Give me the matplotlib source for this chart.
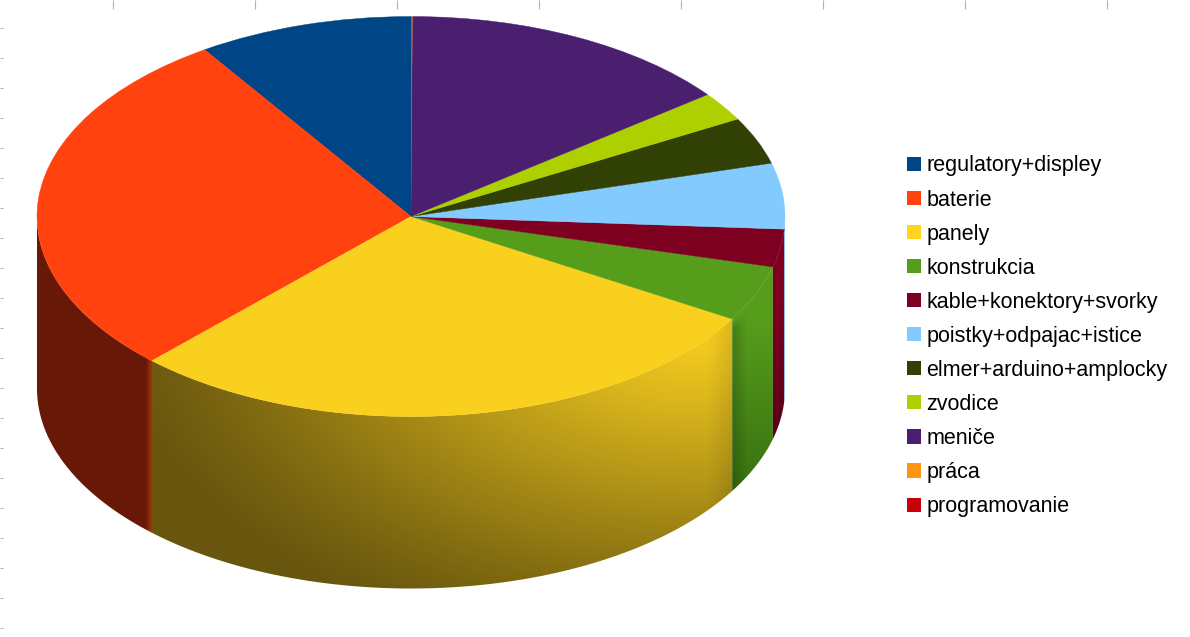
import numpy as np
import matplotlib
matplotlib.use("Agg")
import matplotlib.pyplot as plt
from matplotlib.patches import Patch, PathPatch
from matplotlib.path import Path

categories = ["regulatory+displey", "baterie", "panely", "konstrukcia",
              "kable+konektory+svorky", "poistky+odpajac+istice",
              "elmer+arduino+amplocky", "zvodice", "meniče", "práca", "programovanie"]
values = [9.3, 28.5, 28.6, 4.5, 3.05, 5.3, 3.8, 2.33, 14.5, 0.03, 0.03]
colors = ["#004586", "#ff420e", "#ffd320", "#579d1c", "#7e0021", "#83caff",
          "#314004", "#aecf00", "#4b1f6f", "#ff950e", "#c5000b"]
top_colors = ["#004586", "#ff420e", "#fad01f", "#579d1c", "#7e0021", "#83caff",
              "#314004", "#aecf00", "#4b1f6f", "#ff950e", "#c5000b"]

W, H = 1190, 637
CX, CY, RX, RY, DEPTH = 411.0, 216.5, 374.0, 200.0, 172.0

plt.rcParams["font.family"] = ["Liberation Sans", "DejaVu Sans"]
fig = plt.figure(figsize=(W / 100, H / 100), dpi=100, facecolor="white")

# faint gridline stubs at the picture edge
frame = fig.add_axes([0, 0, 1, 1], zorder=0)
frame.set_xlim(0, W)
frame.set_ylim(H, 0)
frame.set_xticks(np.arange(113, W, 142))
frame.set_yticks(np.arange(27.5, H, 30))
frame.tick_params(axis="x", direction="in", top=True, bottom=False, length=6.5,
                  width=0.8, color="#b3b3b3", labelbottom=False, labeltop=False)
frame.tick_params(axis="y", direction="in", left=True, length=2.2,
                  width=0.8, color="#b3b3b3", labelleft=False)
for s in frame.spines.values():
    s.set_visible(False)

ax = fig.add_axes([0, 0, 1, 1], zorder=1)
ax.patch.set_alpha(0)
xlim = (-CX / RX, (W - CX) / RX)
ylim = ((CY - H) / RY, CY / RY)

wedges, _ = ax.pie(values, colors=top_colors, startangle=90, counterclock=True,
                   radius=1, wedgeprops=dict(linewidth=0.3))
for w, c, v in zip(wedges, top_colors, values):
    if v < 0.1:
        w.set_edgecolor("none")
    else:
        w.set_edgecolor(c)
    w.set_zorder(5)

# pixel grids for wall shading
px, py = np.meshgrid(np.arange(W) + 0.5, np.arange(H) + 0.5)


def blend(c0, c1, t):
    c0, c1 = np.array(c0, float), np.array(c1, float)
    return (c0[None, None, :] + (c1 - c0)[None, None, :] * t[..., None]) / 255.0


def shade_baterie():
    img = blend((104, 24, 6), (104, 24, 6), np.zeros_like(px))
    edge = np.clip((px - 146.0) / 4.0, 0, 1)
    return img * (1 - edge[..., None]) + np.array([150, 45, 10]) / 255.0 * edge[..., None]


def shade_panely():
    d = np.hypot((px - 700) * 1.05, (py - 320) * 1.8)
    t = np.clip(1 - (d / 620) ** 1.2, 0, 1) ** 1.25
    img = blend((104, 86, 14), (250, 208, 32), t)
    dark = np.clip((px - 708) / 24, 0, 1)[..., None] * 0.10
    return img * (1 - dark)


def shade_konstrukcia():
    t = np.clip((py - 320) / 170, 0, 1)
    img = blend((87, 157, 28), (56, 112, 16), t)
    band = np.clip((747 - px) / 14, 0, 1) * np.clip((py - (322 - (px - 732) * 0.8)) / 8, 0, 1)
    return img * (1 - band[..., None] * 0.18)


def shade_kable():
    t = np.clip((py - 300) / 140, 0, 1)
    return blend((126, 0, 33), (88, 0, 24), t)


def shade_flat(c):
    return np.ones((H, W, 3)) * np.array(c) / 255.0


shaders = {1: shade_baterie, 2: shade_panely, 3: shade_konstrukcia,
           4: shade_kable, 5: lambda: shade_flat((125, 190, 240))}

fractions = np.array(values) / np.sum(values)
bounds = 90 + 360 * np.concatenate([[0], np.cumsum(fractions)])
drop = DEPTH / RY

for i, shader in shaders.items():
    lo, hi = bounds[i], bounds[i + 1]
    lo, hi = max(lo, 180.0), min(hi, 360.0)
    if hi <= lo:
        continue
    th = np.radians(np.linspace(lo, hi, 200))
    xs, ys = np.cos(th), np.sin(th)
    verts = np.vstack([np.column_stack([xs, ys]),
                       np.column_stack([xs[::-1], ys[::-1] - drop]),
                       [[xs[0], ys[0]]]])
    clip = PathPatch(Path(verts, closed=True), transform=ax.transData,
                     facecolor="none", edgecolor="none")
    ax.add_patch(clip)
    im = ax.imshow(shader(), extent=(xlim[0], xlim[1], ylim[0], ylim[1]),
                   origin="upper", aspect="auto", zorder=2, interpolation="bilinear")
    im.set_clip_path(clip)

ax.set_aspect("auto")
ax.set_xlim(*xlim)
ax.set_ylim(*ylim)
ax.axis("off")

handles = [Patch(facecolor=c, edgecolor="none", label=l) for c, l in zip(colors, categories)]
leg = fig.legend(handles=handles, loc="upper left",
                 bbox_to_anchor=(907 / W, 1 - 155.5 / H), bbox_transform=fig.transFigure,
                 frameon=False, fontsize=15.5, handlelength=0.63, handleheight=0.63,
                 handletextpad=0.28, labelspacing=0.607, borderpad=0, borderaxespad=0)

fig.savefig("out.png", dpi=100, facecolor="white")
